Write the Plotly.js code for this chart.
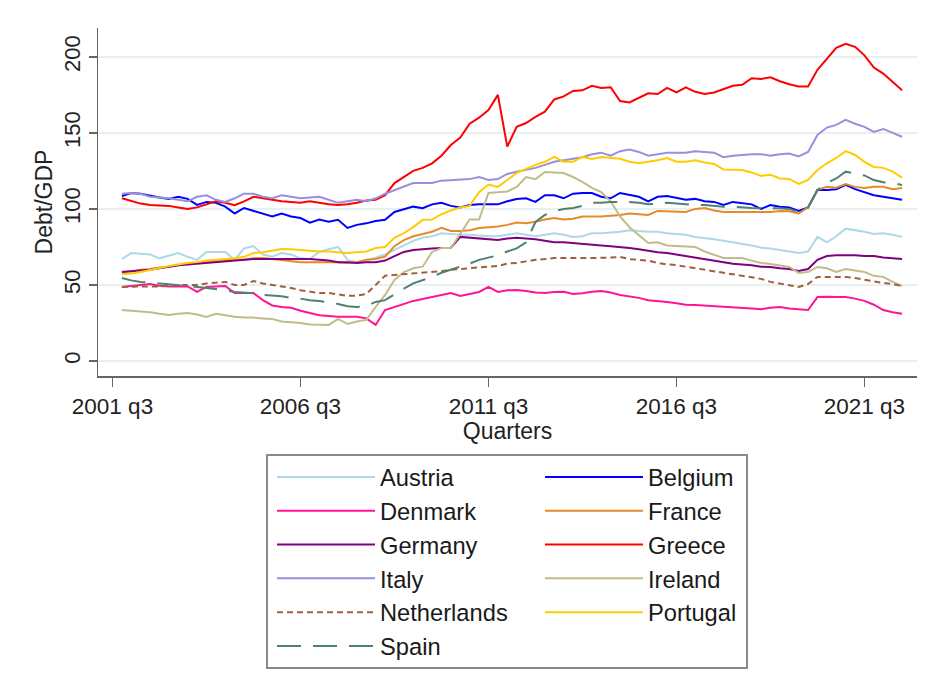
<!DOCTYPE html>
<html>
<head>
<meta charset="utf-8">
<script src="https://cdn.plot.ly/plotly-3.0.1.min.js"></script>
<style>
html,body{margin:0;padding:0;background:#fff;}
#chart{width:926px;height:695px;}
</style>
</head>
<body>
<div id="chart"></div>
<script>
// Stata quarterly index (1960q1 = 0): data run 2001q4 .. 2022q3
const firstQuarter = 167, lastQuarter = 250;
const quarters = [];
for (let q = firstQuarter; q <= lastQuarter; q++) quarters.push(q);

const tickQuarters = [166, 186, 206, 226, 246];
const tickLabels = ["2001 q3", "2006 q3", "2011 q3", "2016 q3", "2021 q3"];

const austria = [67,
  71,70.5,70,67.5, 69,71,68.5,66.5, 71.7,71.7,71.7,66.5, 74,75.6,70,68.6,
  71,70,67.5,67, 71.7,73.5,75,66.5, 65,66,68,70, 73,76,79,81,
  82,84,83.5,83, 83,82.5,82,82, 83,84,83,82, 83,84,83,81.6,
  82,84,84,84.5, 85,86,85.5,85, 85,84,83.5,83, 81.6,81,80,79,
  78,77,76,74.5, 74,73,72,71, 72,81.6,78,82, 87,86,85,83.5,
  84,83,81.6];
const belgium = [108.5,
  110.5,110,108.5,107.5, 106.6,108,106.6,102.6, 104.6,104,101.5,97, 100.6,98.7,97,95,
  97,95,94,91, 93,91.6,92.8,87.5, 89.5,90.5,92,92.8, 98,100,101.5,100.5,
  103,104,102,101, 102.6,103,103,103, 105,106.5,107,104.6, 109,109,107,110,
  110.5,110.5,108,107, 110.5,109,108,105, 108,108.5,107,106, 106.6,105,104.6,102.6,
  104.6,104,103,100, 102.6,101.5,101,98.7, 101,112.5,112.5,113, 115.8,113,111,109,
  108,107,106];
const denmark = [48.7,
  49.5,50,50.6,49.5, 49,49,49,45.4, 48.7,49,49.3,44.7, 44.7,44.7,40,36.5,
  35.5,35,33,31.6, 30,29.5,29,29, 29,28,23.7,33.5, 35.5,37.5,39.5,40.8,
  42,43.4,44.7,42.8, 44,45.4,48.7,45.4, 46.5,46.7,46,45, 44.7,45.4,45.5,44,
  44.5,45.5,46,45, 43.4,42.5,41.5,40, 39.5,38.8,38,37, 36.8,36.5,36,35.5,
  35.5,35,34.5,34, 35,35.5,34.5,34, 33.5,42,42.3,42, 42,41,39.5,37,
  33.5,32,31];
const france = [58.5,
  59,60,60.5,61.5, 62,63,64,64.5, 65,65.5,66,66.5, 66.5,67.5,67.7,67,
  66,65.5,65,65, 65,65,65,64.5, 65,66.5,67,68.6, 75.5,79.5,82,83.5,
  85,87.5,85.5,85.5, 86,87.5,88,88.5, 89.5,91,90.5,91.5, 93,94,93,93.5,
  95,95,95,95.5, 96,97,96.6,96, 98.7,98.5,98,98, 100,100.6,99,98,
  98,98,98,98, 98,98.7,98.5,97, 101,112.5,114.5,114, 116.4,114.5,113.8,114.5,
  114.5,113,113.8];
const germany = [58.5,
  59,59.5,60,61, 62,63,63.5,64, 64.5,65,65.5,66, 66.5,67,67,67,
  67,67,67,67, 66.5,66,65,65, 64.5,65,65,66, 69,71.7,73,73.7,
  74,74.3,74.5,81.6, 81,80.5,80,79.6, 80.5,81,80.5,80, 79,78,78,77.6,
  77,76.5,76,75.5, 75,74.3,73.5,72.4, 71.5,71,70,69, 68,67,66,65,
  64,63.5,63,62, 61.8,61,60.5,59.2, 60.5,66.5,69,69.5, 69.7,69.5,69,69,
  68,67.5,67];
const greece = [107,
  105,103.5,102.6,102.5, 102,101,100,101, 103,105,104,102.5, 105,108,107,106,
  105,104.5,104,105, 104,103,102.5,103, 104,105.5,106,109, 117,121,125,127,
  130,135,142,147, 156,160,165,175, 141,154,156.5,160.5, 164,172,174,177.6,
  178,181,179.6,180, 171,170,173,176, 175.6,179.6,176.6,180, 177,175.6,176.6,178.6,
  181,181.6,186,185.5, 186.6,184,182,180.6, 180.6,191.5,199,206, 208.6,206.6,201,193,
  189,183.5,178];
const italy = [110,
  110.5,110,108,107.5, 107,106,105,108, 109,106,104.6,107, 110,110,108,107,
  109,108,107,107.5, 108,106,104,105, 106,105,107,110, 112.5,114.5,117,117,
  117,118.6,119,119, 119.6,121,119,119.6, 123,124.5,125.6,127, 129,131,132,133,
  134,136,137,135, 138,139,137.5,135, 136,137,137,137, 138,137.5,137,134,
  135,135.5,136,136, 135,136,136.5,134.5, 137.5,148.6,153.5,155.3, 158.6,156,154,150.6,
  152.6,150,147.5];
const ireland = [33.5,
  33,32.5,32,31, 30.3,31,31.6,30.5, 29,31,30,29, 28.5,28.5,28,27.6,
  26,25.7,25,24, 23.7,23.7,27.6,24.3, 26,27,35.5,43.4, 53.3,58.5,61,62,
  71.7,74.3,74.3,83.5, 93,93,110.5,111, 111.5,114.5,121,119.6, 124.3,124,123.6,121,
  117.8,113.8,111,105, 95,88,83,77.6, 78,76,75.6,75.2, 75,72,70,67.7,
  67.7,67.7,66,64.5, 63.8,63,61.8,57.9, 58.5,61.8,61,58.5, 60.5,59.5,58.5,56,
  55.3,52,49.3];
const netherlands = [48.7,
  49,49,49,49, 49.5,50,50,50, 51,51.5,52,50, 50,52.6,51,50,
  49,48,46.5,45.5, 44.7,44.7,44,42.8, 43,44,50,56, 56.6,57,57.5,58,
  58.5,59,60,60.5, 61,61.5,61.8,62.5, 64,64.5,65.5,66.5, 67,67.7,67.7,67.5,
  67.7,67.7,67.7,68, 68.4,67,66.5,66, 64.5,63.5,63,62, 61,60,59,58,
  57,56,55,54, 52,51,50,48.7, 50.6,55.3,55.3,55.3, 55.3,54.5,53.3,52.5,
  51.3,50.5,49.3];
const portugal = [57,
  57.5,58.5,60,61, 62.5,63.5,64.5,65, 66,66.5,67,67.5, 68.5,71,71.5,72.5,
  73.7,73.5,73,72.4, 72,72,71.7,71, 71.5,72,74.3,75, 81,84,88,92.8,
  93,96.5,99,101, 102,111,116,114.5, 119,123.6,126.3,129, 131,134.2,131,131,
  134.2,132.9,134.2,133.5, 133,131,130,131, 132,133.5,131,131, 132,130.5,129.6,126,
  126,125.6,124,121.7, 122.4,120,119.7,116.4, 119,125.6,130,133.5, 138,135.5,131,127.6,
  127,124.5,120.6];
const spain = [54.6,
  53,52,51.3,51, 50.5,50,49.5,48.7, 48,47.4,46.5,45.4, 45,44.5,43.4,43,
  42.5,41.5,41,40, 39.5,38.5,37.5,36, 35.5,36,38.8,40, 44,47.5,51,53,
  55.3,58,60,61.5, 64,66.5,68,69.5, 72,74,78,91.4, 96,98.5,100,100.6,
  102,104,104,104.6, 104.6,104.6,104,103, 103.5,104,103.5,103, 102.6,102.5,102,101.5,
  101.5,101,100.6,100.5, 100.6,100.5,100,98, 101,112.5,117,120, 124.5,123,122,119,
  117.5,117,115.8];

const series = [
  {name: "Austria", y: austria, color: "#add8e6", dash: "solid", legend: "legend"},
  {name: "Belgium", y: belgium, color: "#0000ff", dash: "solid", legend: "legend2"},
  {name: "Denmark", y: denmark, color: "#ff1493", dash: "solid", legend: "legend"},
  {name: "France", y: france, color: "#e8892b", dash: "solid", legend: "legend2"},
  {name: "Germany", y: germany, color: "#800080", dash: "solid", legend: "legend"},
  {name: "Greece", y: greece, color: "#ff0000", dash: "solid", legend: "legend2"},
  {name: "Italy", y: italy, color: "#9a8fdc", dash: "solid", legend: "legend"},
  {name: "Ireland", y: ireland, color: "#c2bb8a", dash: "solid", legend: "legend2"},
  {name: "Netherlands", y: netherlands, color: "#a0603f", dash: "6px,4px", legend: "legend"},
  {name: "Portugal", y: portugal, color: "#ffcc00", dash: "solid", legend: "legend2"},
  {name: "Spain", y: spain, color: "#4f8173", dash: "24px,12px", legend: "legend"}
];

const traces = series.map(s => ({
  type: "scatter", mode: "lines", name: s.name, x: quarters, y: s.y,
  legend: s.legend,
  line: {color: s.color, width: 2, dash: s.dash}
}));

// plot area in pixels: left 98, right 917, top 28, bottom 376
const px = v => (v - 98) / 819;
const py = v => (376 - v) / 348;

const legendCommon = {
  orientation: "v", xanchor: "left", yanchor: "top",
  bgcolor: "rgba(0,0,0,0)", borderwidth: 0,
  font: {size: 23.7, color: "#1a1a1a"}, itemwidth: 98,
  traceorder: "normal"
};

const layout = {
  width: 926, height: 695,
  paper_bgcolor: "#ffffff", plot_bgcolor: "#ffffff",
  margin: {l: 98, r: 9, t: 28, b: 319, autoexpand: false},
  font: {family: "Liberation Sans, Arial, sans-serif", color: "#222", size: 22},
  showlegend: true,
  xaxis: {
    range: [164.46, 251.59], tickmode: "array", tickvals: tickQuarters, ticktext: tickLabels,
    ticks: "outside", ticklen: 9, tickwidth: 1.5, tickcolor: "#666",
    showline: true, linecolor: "#666", linewidth: 1.5,
    showgrid: false, zeroline: false, automargin: false,
    tickfont: {size: 22.5, color: "#222"},
    title: {text: "Quarters", font: {size: 23, color: "#222"}, standoff: 0}
  },
  yaxis: {
    range: [-9.9, 219], tickmode: "array", tickvals: [0, 50, 100, 150, 200],
    tickangle: -90, ticks: "outside", ticklen: 8, tickwidth: 1.5, tickcolor: "#666",
    showline: true, linecolor: "#666", linewidth: 1.5,
    showgrid: true, gridcolor: "#e8f1f2", gridwidth: 1.5, zeroline: false, automargin: false,
    tickfont: {size: 22, color: "#222"},
    title: {text: "Debt/GDP", font: {size: 23, color: "#222"}, standoff: 0}
  },
  legend: Object.assign({}, legendCommon, {x: px(272), y: py(455)}),
  legend2: Object.assign({}, legendCommon, {x: px(540), y: py(455)}),
  shapes: [{
    type: "rect", xref: "paper", yref: "paper",
    x0: px(267), x1: px(747), y0: py(668), y1: py(455),
    line: {color: "#8a8a8a", width: 2}, fillcolor: "rgba(0,0,0,0)", layer: "below"
  }]
};

Plotly.newPlot("chart", traces, layout, {displayModeBar: false, staticPlot: true});
</script>
</body>
</html>
